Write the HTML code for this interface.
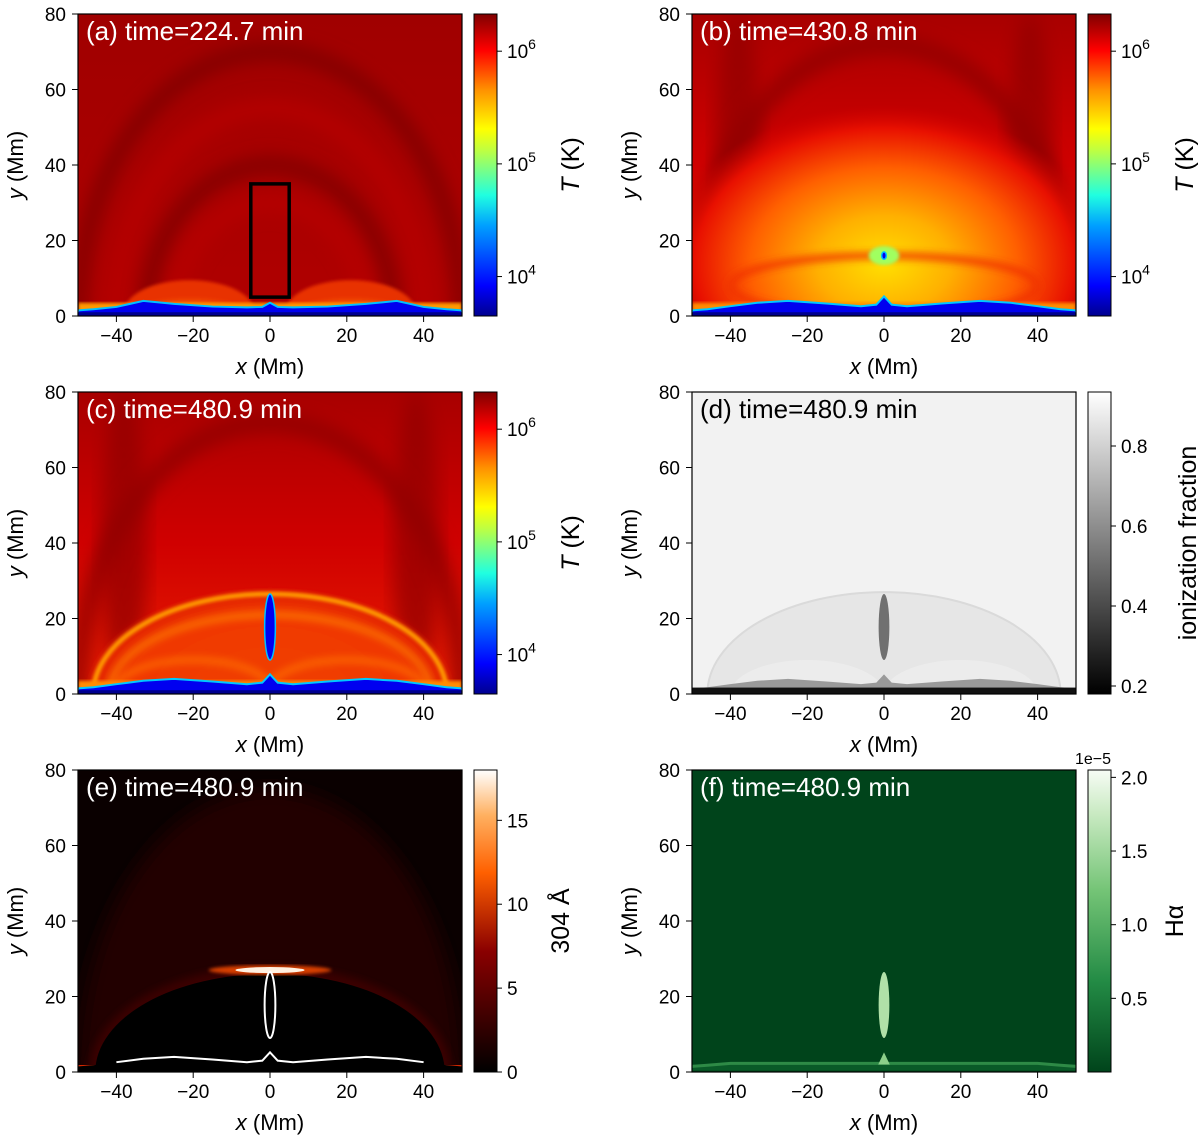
<!DOCTYPE html>
<html><head><meta charset="utf-8"><style>
html,body{margin:0;background:#fff;width:1200px;height:1135px;overflow:hidden;}
svg{display:block;font-family:"Liberation Sans","DejaVu Sans",sans-serif;}
</style></head><body>
<svg id="fig" width="1200" height="1135" viewBox="0 0 1200 1135" xmlns="http://www.w3.org/2000/svg">
<defs>
<filter id="bl4" x="-20%" y="-20%" width="140%" height="140%"><feGaussianBlur stdDeviation="4"/></filter>
<filter id="bl8" x="-20%" y="-20%" width="140%" height="140%"><feGaussianBlur stdDeviation="9"/></filter>
<filter id="bl2"><feGaussianBlur stdDeviation="1.5"/></filter>
<linearGradient id="cjet" x1="0" y1="1" x2="0" y2="0">
<stop offset="0" stop-color="#00008f"/><stop offset="0.1" stop-color="#0000ff"/><stop offset="0.3" stop-color="#00a0ff"/><stop offset="0.4" stop-color="#20ffe0"/><stop offset="0.55" stop-color="#c0ff40"/><stop offset="0.62" stop-color="#ffff00"/><stop offset="0.75" stop-color="#ff9000"/><stop offset="0.88" stop-color="#ff0000"/><stop offset="1" stop-color="#800000"/></linearGradient>
<linearGradient id="cgray" x1="0" y1="1" x2="0" y2="0"><stop offset="0" stop-color="#000"/><stop offset="1" stop-color="#fff"/></linearGradient>
<linearGradient id="cheat" x1="0" y1="1" x2="0" y2="0"><stop offset="0" stop-color="#000"/><stop offset="0.4" stop-color="#8a0000"/><stop offset="0.66" stop-color="#ff6000"/><stop offset="0.85" stop-color="#ffb060"/><stop offset="1" stop-color="#fff"/></linearGradient>
<linearGradient id="cgreen" x1="0" y1="1" x2="0" y2="0"><stop offset="0" stop-color="#00441b"/><stop offset="0.3" stop-color="#238b45"/><stop offset="0.6" stop-color="#74c476"/><stop offset="0.85" stop-color="#c7e9c0"/><stop offset="1" stop-color="#f7fcf5"/></linearGradient>
<radialGradient id="gB"><stop offset="0" stop-color="#ffe000"/><stop offset="0.3" stop-color="#ffb000"/><stop offset="0.6" stop-color="#ff6000"/><stop offset="0.85" stop-color="#e81000"/><stop offset="1" stop-color="#d00000" stop-opacity="0"/></radialGradient>
<radialGradient id="gC"><stop offset="0" stop-color="#f04000"/><stop offset="0.8" stop-color="#f03800"/><stop offset="1" stop-color="#e02000"/></radialGradient>
<radialGradient id="gBump" cx="0.5" cy="1" r="0.75"><stop offset="0" stop-color="#ffb000"/><stop offset="0.7" stop-color="#ff7a00"/><stop offset="1" stop-color="#e83000"/></radialGradient>
<linearGradient id="bgA" x1="0" y1="0" x2="0" y2="1"><stop offset="0" stop-color="#a00000"/><stop offset="1" stop-color="#b00000"/></linearGradient>
<linearGradient id="bgB" x1="0" y1="0" x2="0" y2="1"><stop offset="0" stop-color="#a80000"/><stop offset="0.5" stop-color="#d00000"/><stop offset="1" stop-color="#e82000"/></linearGradient>
</defs>
</svg>
<script>
// axis data
const xTicks=[-40,-20,0,20,40];
const yTicks=[0,20,40,60,80];
const titles=["(a) time=224.7 min","(b) time=430.8 min","(c) time=480.9 min","(d) time=480.9 min","(e) time=480.9 min","(f) time=480.9 min"];
const tTickVals=[4,5,6];
const ionTicks=[0.2,0.4,0.6,0.8];
const heatTicks=[0,5,10,15];
const haTicks=[0.5,1.0,1.5,2.0];
// chromosphere profiles
const chromoX=[-50,-46,-40,-33,-25,-15,-6,-2,0,2,6,15,25,33,40,46,50];
const chromoA=[1.5,1.8,2.4,4.0,3.2,2.5,2.3,2.4,3.5,2.4,2.3,2.5,3.2,4.0,2.4,1.8,1.5];
const chromoB=[1.5,1.8,2.6,3.5,4.0,3.3,2.6,3.0,5.2,3.0,2.6,3.3,4.0,3.5,2.6,1.8,1.5];
// prominence (x center, y bottom, y top, half width)
const promB=[0,15,17,0.6];
const promC=[0,9,26.5,1.4];

const NS="http://www.w3.org/2000/svg";
const fig=document.getElementById('fig');
const W=384,H=302;
const panels=[[78,14],[692,14],[78,392],[692,392],[78,770],[692,770]];
function el(tag,attrs,parent){const e=document.createElementNS(NS,tag);for(const k in attrs)e.setAttribute(k,attrs[k]);(parent||fig).appendChild(e);return e;}
function mk(p){const X=v=>p[0]+(v+50)/100*W;const Y=v=>p[1]+H-(v/80)*H;return [X,Y];}

function chromoPath(X,Y,xs,ys){let d=`M${X(-50)},${Y(0)}`;xs.forEach((x,i)=>d+=` L${X(x)},${Y(ys[i])}`);return d+` L${X(50)},${Y(0)} Z`;}
function chromoLine(X,Y,xs,ys,dy){let d='';xs.forEach((x,i)=>d+=(i?' L':'M')+X(x)+','+Y(ys[i]+dy));return d;}

panels.forEach((p,i)=>{
  const [X,Y]=mk(p);
  const g=el('g',{});
  
  
  const cid='clip'+i;
  const cp=el('clipPath',{id:cid},fig);el('rect',{x:p[0],y:p[1],width:W,height:H},cp);
  const hm=el('g',{'clip-path':`url(#${cid})`},g);
  
  
  const sx=W/100, sy=H/80;
  if(i===0){
    el('rect',{x:p[0],y:p[1],width:W,height:H,fill:'url(#bgA)'},hm);
    [[50,70],[40,55],[32,40],[25,30]].forEach(([rx,ry],k)=>el('ellipse',{cx:X(0),cy:Y(0),rx:rx*sx,ry:ry*sy,fill:'none',stroke:k%2?'#b80000':'#7c0000','stroke-width':14,filter:'url(#bl8)'},hm));
    el('ellipse',{cx:X(-21),cy:Y(1),rx:17*sx,ry:8.5*sy,fill:'url(#gBump)',filter:'url(#bl2)'},hm);
    el('ellipse',{cx:X(21),cy:Y(1),rx:17*sx,ry:8.5*sy,fill:'url(#gBump)',filter:'url(#bl2)'},hm);
    el('rect',{x:p[0],y:Y(3.5),width:W,height:12,fill:'#ff9a00',filter:'url(#bl2)'},hm);
    el('path',{d:chromoPath(X,Y,chromoX,chromoA),fill:'#0000f0',stroke:'#00c0ff','stroke-width':2},hm);
    el('rect',{x:p[0],y:Y(1),width:W,height:sy,fill:'#00008f'},hm);
  } else if(i===1||i===2){
    el('rect',{x:p[0],y:p[1],width:W,height:H,fill:'url(#bgB)'},hm);
    el('ellipse',{cx:X(-38),cy:Y(40),rx:6*sx,ry:40*sy,fill:'#900000',filter:'url(#bl8)',opacity:0.7},hm);
    el('ellipse',{cx:X(38),cy:Y(40),rx:6*sx,ry:40*sy,fill:'#900000',filter:'url(#bl8)',opacity:0.7},hm);
    el('ellipse',{cx:X(0),cy:Y(0),rx:50*sx,ry:72*sy,fill:'none',stroke:'#900000','stroke-width':16,filter:'url(#bl8)'},hm);
    if(i===1){
      el('ellipse',{cx:X(0),cy:Y(14),rx:58*sx,ry:42*sy,fill:'url(#gB)'},hm);
      el('ellipse',{cx:X(0),cy:Y(8),rx:40*sx,ry:8*sy,fill:'none',stroke:'#f03000','stroke-width':6,filter:'url(#bl4)'},hm);
      el('ellipse',{cx:X(0),cy:Y(16),rx:4*sx,ry:2.5*sy,fill:'#a0ff60',filter:'url(#bl2)'},hm);
    } else {
      el('ellipse',{cx:X(0),cy:Y(0),rx:47*sx,ry:27*sy,fill:'url(#gC)',filter:'url(#bl4)'},hm);
      el('ellipse',{cx:X(0),cy:Y(0),rx:46*sx,ry:26.5*sy,fill:'none',stroke:'#ff9a00','stroke-width':5,filter:'url(#bl2)'},hm);
      el('ellipse',{cx:X(0),cy:Y(0),rx:42*sx,ry:21*sy,fill:'none',stroke:'#ff8000','stroke-width':5,filter:'url(#bl4)'},hm);
      el('ellipse',{cx:X(-20),cy:Y(0),rx:21*sx,ry:9*sy,fill:'none',stroke:'#ff7000','stroke-width':5,filter:'url(#bl4)'},hm);
      el('ellipse',{cx:X(20),cy:Y(0),rx:21*sx,ry:9*sy,fill:'none',stroke:'#ff7000','stroke-width':5,filter:'url(#bl4)'},hm);
    }
    el('rect',{x:p[0],y:Y(3.5),width:W,height:14,fill:'#ff8c00',filter:'url(#bl2)'},hm);
    el('path',{d:chromoPath(X,Y,chromoX,chromoB),fill:'#0000f0',stroke:'#00c8ff','stroke-width':2},hm);
    el('rect',{x:p[0],y:Y(1),width:W,height:sy,fill:'#00008f'},hm);
    const pr=i===1?promB:promC;
    el('ellipse',{cx:X(pr[0]),cy:(Y(pr[1])+Y(pr[2]))/2,rx:pr[3]*sx,ry:(Y(pr[1])-Y(pr[2]))/2,fill:'#0000f0',stroke:'#00c0ff','stroke-width':1.5},hm);
  } else if(i===3){
    el('rect',{x:p[0],y:p[1],width:W,height:H,fill:'#f2f2f2'},hm);
    el('ellipse',{cx:X(0),cy:Y(0),rx:46*sx,ry:27*sy,fill:'#e6e6e6',stroke:'#dadada','stroke-width':2},hm);
    el('ellipse',{cx:X(-20),cy:Y(0),rx:20*sx,ry:9*sy,fill:'#ececec'},hm);
    el('ellipse',{cx:X(20),cy:Y(0),rx:20*sx,ry:9*sy,fill:'#ececec'},hm);
    el('path',{d:chromoPath(X,Y,chromoX,chromoB),fill:'#9a9a9a'},hm);
    el('rect',{x:p[0],y:Y(1.7),width:W,height:8,fill:'#111'},hm);
    el('ellipse',{cx:X(0),cy:(Y(promC[1])+Y(promC[2]))/2,rx:promC[3]*sx,ry:(Y(promC[1])-Y(promC[2]))/2,fill:'#707070'},hm);
  } else if(i===4){
    el('rect',{x:p[0],y:p[1],width:W,height:H,fill:'#0a0000'},hm);
    el('ellipse',{cx:X(0),cy:Y(0),rx:50*sx,ry:75*sy,fill:'#200000',filter:'url(#bl8)'},hm);
    el('ellipse',{cx:X(0),cy:Y(0),rx:47*sx,ry:28*sy,fill:'#3a0000',filter:'url(#bl4)'},hm);
    el('ellipse',{cx:X(0),cy:Y(0),rx:45.5*sx,ry:26*sy,fill:'#000'},hm);
    el('ellipse',{cx:X(0),cy:Y(27),rx:16*sx,ry:1.3*sy,fill:'#ff5000',opacity:0.8,filter:'url(#bl2)'},hm);
    el('ellipse',{cx:X(0),cy:Y(27),rx:9*sx,ry:0.8*sy,fill:'#fff0e0'},hm);
    el('rect',{x:p[0],y:Y(1.8),width:W,height:8,fill:'#ff3000'},hm);
    el('path',{d:chromoPath(X,Y,chromoX,chromoB),fill:'#000'},hm);
    el('path',{d:chromoLine(X,Y,chromoX.slice(2,15),chromoB.slice(2,15),0),fill:'none',stroke:'#fff','stroke-width':2},hm);
    el('ellipse',{cx:X(promC[0]),cy:(Y(promC[1])+Y(promC[2]))/2,rx:promC[3]*sx,ry:(Y(promC[1])-Y(promC[2]))/2,fill:'#000',stroke:'#fff','stroke-width':2},hm);
  } else {
    el('rect',{x:p[0],y:p[1],width:W,height:H,fill:'#00441b'},hm);
    el('rect',{x:p[0],y:Y(2),width:W,height:6,fill:'#0a5a28'},hm);
    el('path',{d:chromoLine(X,Y,chromoX,chromoB.map(v=>Math.min(v,2.3)),0),fill:'none',stroke:'#2e8a46','stroke-width':3},hm);
    el('path',{d:`M${X(-1.5)},${Y(2)} L${X(0)},${Y(5.2)} L${X(1.5)},${Y(2)} Z`,fill:'#8ccf8a'},hm);
    el('ellipse',{cx:X(0),cy:(Y(promC[1])+Y(promC[2]))/2,rx:promC[3]*sx,ry:(Y(promC[1])-Y(promC[2]))/2,fill:'#b0e0a8'},hm);
  }
  if(i===0){const r=el('rect',{x:X(-5),y:Y(35),width:10*sx,height:30*sy,fill:'none',stroke:'#000','stroke-width':3.5},g);}
  el('rect',{x:p[0],y:p[1],width:W,height:H,fill:'none',stroke:'#000','stroke-width':1.2},g);
  const t=el('text',{x:p[0]+8,y:p[1]+26,fill:i===3?'#000':'#fff','font-size':26},g);t.textContent=titles[i];
  
  xTicks.forEach(v=>{el('line',{x1:X(v),x2:X(v),y1:p[1]+H,y2:p[1]+H+6,stroke:'#000'},g);const tt=el('text',{x:X(v),y:p[1]+H+26,'text-anchor':'middle','font-size':19},g);tt.textContent=(v<0?'\u2212'+(-v):v);});
  yTicks.forEach(v=>{el('line',{x1:p[0]-6,x2:p[0],y1:Y(v),y2:Y(v),stroke:'#000'},g);const tt=el('text',{x:p[0]-12,y:Y(v)+7,'text-anchor':'end','font-size':19},g);tt.textContent=v;});
  const xl=el('text',{x:p[0]+W/2,y:p[1]+H+58,'text-anchor':'middle','font-size':22},g);xl.innerHTML='<tspan font-style="italic">x</tspan> (Mm)';
  
  const yl=el('text',{transform:`translate(${p[0]-55},${p[1]+H/2}) rotate(-90)`,'text-anchor':'middle','font-size':22},g);yl.innerHTML='<tspan font-style="italic">y</tspan> (Mm)';
  
  const cx=p[0]+396,cw=23;
  const cb=el('g',{},g);
  const fillId=i<3?'cjet':(i===3?'cgray':(i===4?'cheat':'cgreen'));
  el('rect',{x:cx,y:p[1],width:cw,height:H,fill:`url(#${fillId})`,stroke:'#000','stroke-width':1},cb);
  let ticks,toY,lab,labelTxt;
  if(i<3){const lo=3.65,hi=6.33;ticks=tTickVals;toY=v=>p[1]+H-(v-lo)/(hi-lo)*H;lab=v=>'10<tspan dy="-9" font-size="14">'+v+'</tspan>';labelTxt='<tspan font-style="italic">T</tspan> (K)';}
  else if(i===3){const lo=0.18,hi=0.935;ticks=ionTicks;toY=v=>p[1]+H-(v-lo)/(hi-lo)*H;lab=v=>v.toFixed(1);labelTxt='ionization fraction';}
  else if(i===4){const lo=0,hi=18;ticks=heatTicks;toY=v=>p[1]+H-(v-lo)/(hi-lo)*H;lab=v=>v;labelTxt='304 Å';}
  else {const lo=0,hi=2.05;ticks=haTicks;toY=v=>p[1]+H-(v-lo)/(hi-lo)*H;lab=v=>v.toFixed(1);labelTxt='Hα';}
  ticks.forEach(v=>{el('line',{x1:cx+cw,x2:cx+cw+5,y1:toY(v),y2:toY(v),stroke:'#000'},cb);const tt=el('text',{x:cx+cw+10,y:toY(v)+7,'font-size':19},cb);tt.innerHTML=lab(v);});
  const ct=el('text',{transform:`translate(${cx+cw+(i<3?82:i===3?85:72)},${p[1]+H/2}) rotate(-90)`,'text-anchor':'middle','font-size':25},cb);ct.innerHTML=labelTxt;
  
  if(i===5){const e=el('text',{x:cx+cw,y:p[1]-6,'text-anchor':'end','font-size':16},cb);e.textContent='1e\u22125';}
});
</script>
</body></html>
